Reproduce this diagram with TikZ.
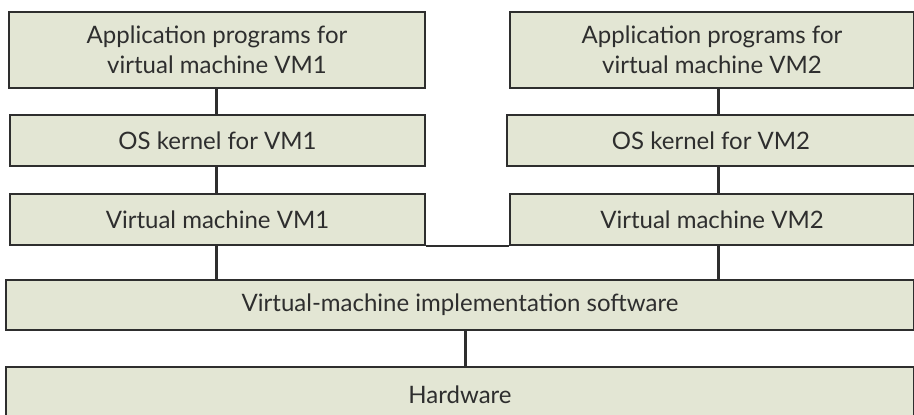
\documentclass[tikz,border=0pt]{standalone}
\usepackage{fontspec}
\setmainfont{Lato}
\definecolor{boxfill}{HTML}{E3E6D4}
\definecolor{ink}{HTML}{2E2E2E}
\begin{document}
\begin{tikzpicture}[x=1pt,y=-1pt,
  layer/.style={draw=ink, line width=2pt, fill=boxfill, text=ink, align=center,
    inner sep=0pt, font=\fontsize{24}{30}\selectfont},
  link/.style={draw=ink, line width=3pt}]
\useasboundingbox[fill=white] (0,0) rectangle (914,415);
\node[layer, minimum width=416, minimum height=76] (app1) at (217,50) {Application programs for\\virtual machine VM1};
\node[layer, minimum width=404, minimum height=76] (app2) at (712,50) {Application programs for\\virtual machine VM2};
\node[layer, minimum width=415, minimum height=51] (os1) at (217.5,140.5) {OS kernel for VM1};
\node[layer, minimum width=408, minimum height=51] (os2) at (711,140.5) {OS kernel for VM2};
\node[layer, minimum width=415, minimum height=51] (vm1) at (217.5,219.5) {Virtual machine VM1};
\node[layer, minimum width=404, minimum height=51] (vm2) at (712,219.5) {Virtual machine VM2};
\node[layer, minimum width=908, minimum height=50] (impl) at (460,305) {Virtual-machine implementation software};
\node[layer, minimum width=908, minimum height=56] (hw) at (460,395) {Hardware};
\draw[link] (app1.south -| 216,0) -- (os1.north -| 216,0);
\draw[link] (os1.south -| 216,0) -- (vm1.north -| 216,0);
\draw[link] (app2.south -| 718,0) -- (os2.north -| 718,0);
\draw[link] (os2.south -| 718,0) -- (vm2.north -| 718,0);
\draw[draw=ink, line width=2pt] (vm1.south east) -- (vm2.south west);
\draw[link] (vm1.south -| 216,0) -- (impl.north -| 216,0);
\draw[link] (vm2.south -| 718,0) -- (impl.north -| 718,0);
\draw[link] (impl.south -| 465,0) -- (hw.north -| 465,0);
\end{tikzpicture}
\end{document}
